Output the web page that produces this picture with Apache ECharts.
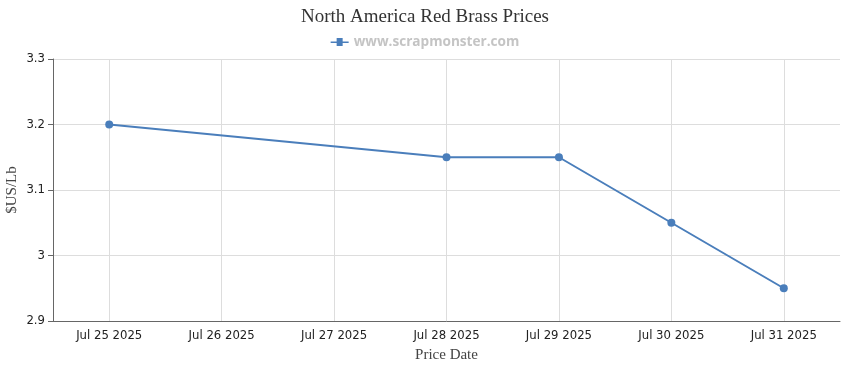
<!DOCTYPE html>
<html><head><meta charset="utf-8">
<script src="https://cdn.jsdelivr.net/npm/echarts@6/dist/echarts.min.js"></script>
<style>html,body{margin:0;padding:0;background:#fff}#c{width:850px;height:370px}</style>
</head><body><div id="c"></div>
<script>
const categories = ['Jul 25 2025','Jul 26 2025','Jul 27 2025','Jul 28 2025','Jul 29 2025','Jul 30 2025','Jul 31 2025'];
const prices = [3.20, null, null, 3.15, 3.15, 3.05, 2.95];
const yTicks = {min: 2.9, max: 3.3, interval: 0.1};
const seriesName = 'www.scrapmonster.com';

const chart = echarts.init(document.getElementById('c'));
chart.setOption({
  animation: false,
  title: {text: 'North America Red Brass Prices', left: 'center', top: 3,
    textStyle: {fontFamily: 'Liberation Serif', fontWeight: 'normal', fontSize: 19, color: '#333'}},
  legend: {top: 30, left: 'center', itemWidth: 18, itemHeight: 8,
    data: [{name: seriesName, icon: 'path://M0,3.5 L6,3.5 L6,0 L12,0 L12,3.5 L18,3.5 L18,5 L12,5 L12,8 L6,8 L6,5 L0,5 Z'}],
    textStyle: {fontFamily: 'Open Sans', fontWeight: 'bold', fontSize: 13.6, color: '#c4c4c4'}},
  grid: {left: 53, right: 10, top: 59, bottom: 49, containLabel: false, outerBoundsMode: 'none'},
  xAxis: {type: 'category', data: categories, boundaryGap: true,
    name: 'Price Date', nameLocation: 'middle', nameGap: 27, nameMoveOverlap: false,
    nameTextStyle: {fontFamily: 'Liberation Serif', fontSize: 15, color: '#444'},
    axisLine: {lineStyle: {color: '#666'}},
    axisTick: {alignWithLabel: true, length: 5, lineStyle: {color: '#666'}},
    axisLabel: {fontFamily: 'DejaVu Sans', fontSize: 11.7, color: '#222', margin: 9, interval: 0},
    splitLine: {show: true, alignWithLabel: true, lineStyle: {color: '#ddd'}}},
  yAxis: {type: 'value', min: yTicks.min, max: yTicks.max, interval: yTicks.interval,
    name: '$US/Lb', nameLocation: 'middle', nameGap: 33, nameMoveOverlap: false,
    nameTextStyle: {fontFamily: 'Liberation Serif', fontSize: 15, color: '#444'},
    axisLine: {show: true, lineStyle: {color: '#666'}},
    axisTick: {show: true, length: 5, lineStyle: {color: '#666'}},
    axisLabel: {fontFamily: 'DejaVu Sans', fontSize: 11.7, color: '#222', margin: 8,
      formatter: v => (Math.round(v*10)/10).toString()},
    splitLine: {show: true, lineStyle: {color: '#ddd'}}},
  series: [{name: seriesName, type: 'line', data: prices, connectNulls: true,
    symbol: 'circle', symbolSize: 8,
    itemStyle: {color: '#4a7ebb'}, lineStyle: {color: '#4a7ebb', width: 2}}]
});
</script></body></html>
